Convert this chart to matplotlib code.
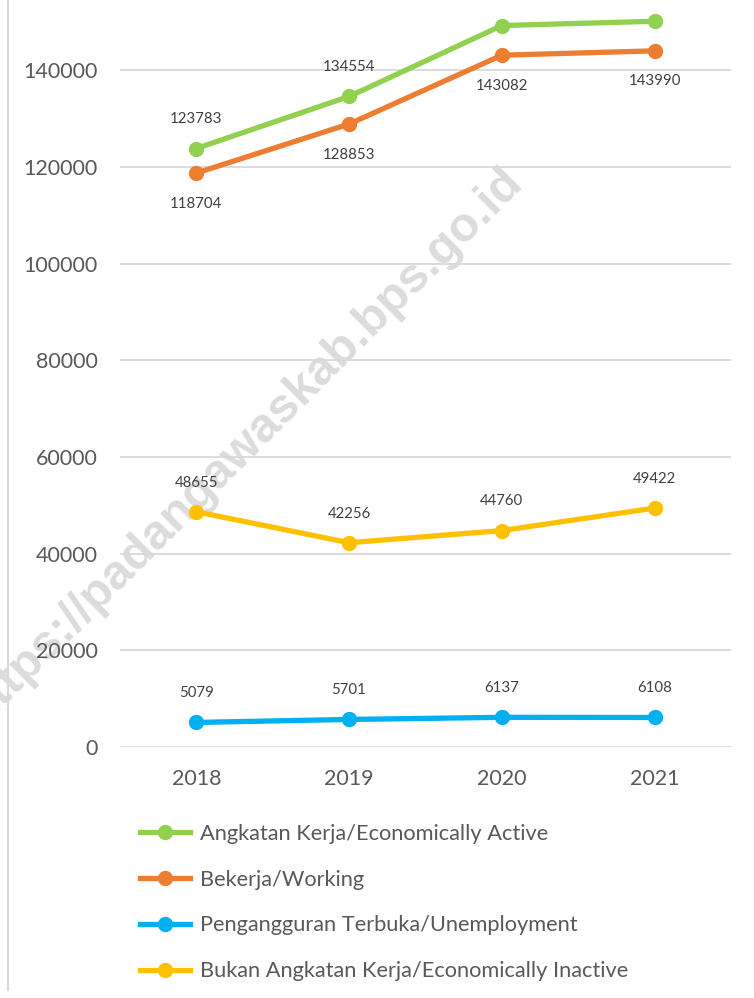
import matplotlib.pyplot as plt
from matplotlib.lines import Line2D

plt.rcParams['font.family'] = ['Lato', 'DejaVu Sans']

years = ['2018', '2019', '2020', '2021']
active = [123783, 134554, 149219, 150098]
working = [118704, 128853, 143082, 143990]
unemployed = [5079, 5701, 6137, 6108]
inactive = [48655, 42256, 44760, 49422]

names = ['Angkatan Kerja/Economically Active',
         'Bekerja/Working',
         'Pengangguran Terbuka/Unemployment',
         'Bukan Angkatan Kerja/Economically Inactive']
colors = ['#92D050', '#ED7D31', '#00B0F0', '#FFC000']

fig = plt.figure(figsize=(7.54, 9.98), dpi=100, facecolor='white')

# watermark sits behind the axes (runs off the left edge like the original)
fig.text(0.324, 0.553, 'https://padangawaskab.bps.go.id', rotation=45,
         ha='center', va='center', fontsize=35, fontweight='bold',
         family='Liberation Sans', color='#dcdcdc', zorder=-5)

ax = fig.add_axes([0.159, 0.2515, 0.8105, 0.7485])
ax.patch.set_alpha(0)

x = list(range(len(years)))
series = [active, working, unemployed, inactive]
for vals, name, c in zip(series, names, colors):
    ax.plot(x, vals, color=c, lw=3.8, marker='o', markersize=10,
            solid_capstyle='round', label=name, zorder=3)

lab_col = '#404040'
# data labels (offsets in points)
def label(vals, idxs, dy):
    for i in idxs:
        ax.annotate(str(vals[i]), (x[i], vals[i]), xytext=(0, dy),
                    textcoords='offset points', ha='center', va='center',
                    fontsize=10.8, color=lab_col)

label(active, [0, 1], 21)
label(working, [0, 1, 2, 3], -22)
label(inactive, [0, 1, 2, 3], 21)
label(unemployed, [0, 1, 2, 3], 21)

ax.set_xlim(-0.5, 3.5)
ax.set_ylim(0, 154500)
ax.set_yticks(range(0, 150000, 20000))
ax.set_xticks(x)
ax.set_xticklabels(years)
ax.tick_params(length=0, labelsize=15.5, colors='#595959')
ax.tick_params(axis='y', pad=16)
ax.tick_params(axis='x', pad=16)
ax.grid(axis='y', color='#d9d9d9', lw=1.3)
ax.set_axisbelow(True)
for s in ax.spines.values():
    s.set_visible(False)

# left border line
fig.add_artist(Line2D([0.011, 0.011], [0.008, 1.0], color='#d9d9d9', lw=1.5))

handles = [Line2D([], [], color=c, lw=3.8, marker='o', markersize=10) for c in colors]
leg = fig.legend(handles, names, loc='upper left', bbox_to_anchor=(0.160, 0.194),
                 frameon=False, fontsize=15.7, labelcolor='#595959',
                 handlelength=2.3, handletextpad=0.45, labelspacing=1.18)

fig.savefig('out.png', dpi=100)
